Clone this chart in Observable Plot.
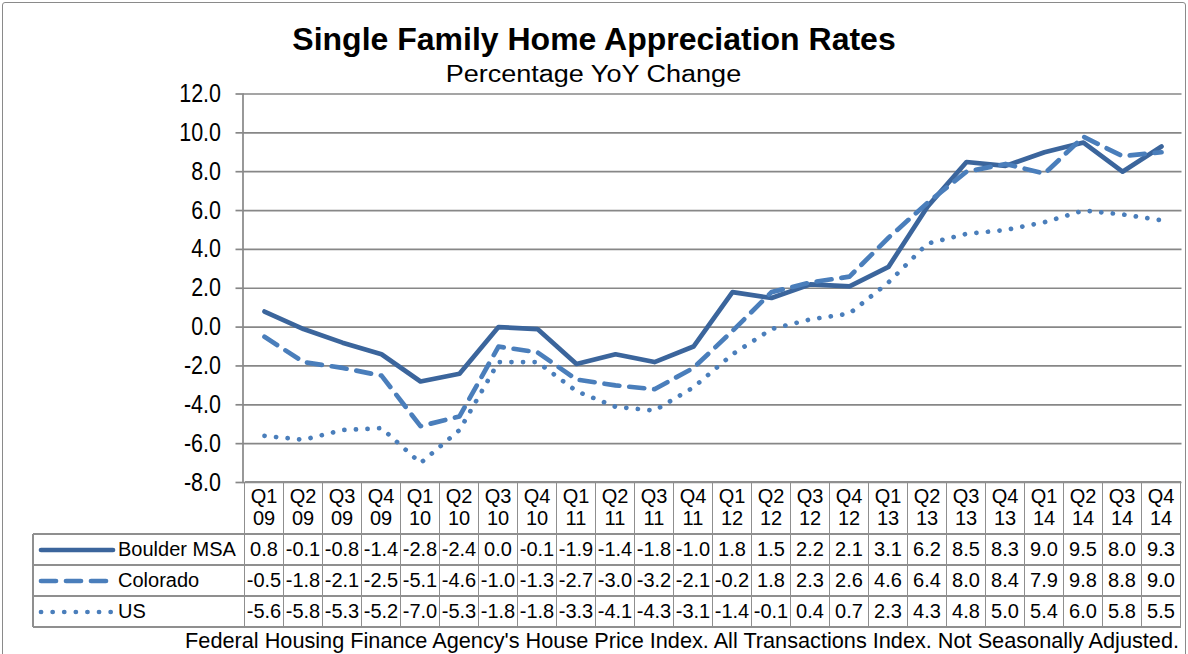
<!DOCTYPE html>
<html>
<head>
<meta charset="utf-8">
<script src="https://cdn.jsdelivr.net/npm/d3@7"></script>
<script src="https://cdn.jsdelivr.net/npm/@observablehq/plot@0.6"></script>
<style>
  html, body { margin: 0; padding: 0; background: #fff; }
  body { font-family: "Liberation Sans", Arial, sans-serif; color: #000; }
  #wrap { position: relative; width: 1188px; height: 654px; overflow: hidden; background: #fff; }
  #frame { position: absolute; left: 2px; top: 2px; width: 1184px; height: 680px; border: 1.5px solid #8a8a8a; border-radius: 3px; box-sizing: border-box; }
  #title { position: absolute; left: 0; width: 1188px; top: 21px; text-align: center; font-weight: bold; font-size: 32px; line-height: 37px; }
  #subtitle { position: absolute; left: 0; width: 1188px; top: 61px; text-align: center; font-size: 23.5px; line-height: 27px; transform: scaleX(1.15); transform-origin: 598px 0; }
  #chart { position: absolute; left: 0; top: 84px; }
  #table { position: absolute; left: 0; top: 0; }
  .cell { position: absolute; box-sizing: border-box; text-align: center; font-size: 20px; white-space: nowrap; }
  .hline, .vline { position: absolute; background: #8f8f8f; }
  #footer { position: absolute; right: 9px; top: 629.5px; font-size: 21.7px; line-height: 22px; white-space: nowrap; }
</style>
</head>
<body>
<div id="wrap">
  <div id="frame"></div>
  <div id="title">Single Family Home Appreciation Rates</div>
  <div id="subtitle">Percentage YoY Change</div>
  <div id="chart"></div>
  <div id="table"></div>
  <div id="footer">Federal Housing Finance Agency's House Price Index. All Transactions Index. Not Seasonally Adjusted.</div>
</div>
<script>
// ---- Data ----
const quarters = ["Q1 09","Q2 09","Q3 09","Q4 09","Q1 10","Q2 10","Q3 10","Q4 10",
                  "Q1 11","Q2 11","Q3 11","Q4 11","Q1 12","Q2 12","Q3 12","Q4 12",
                  "Q1 13","Q2 13","Q3 13","Q4 13","Q1 14","Q2 14","Q3 14","Q4 14"];
const boulder  = [0.8,-0.1,-0.8,-1.4,-2.8,-2.4,0.0,-0.1,-1.9,-1.4,-1.8,-1.0,1.8,1.5,2.2,2.1,3.1,6.2,8.5,8.3,9.0,9.5,8.0,9.3];
const colorado = [-0.5,-1.8,-2.1,-2.5,-5.1,-4.6,-1.0,-1.3,-2.7,-3.0,-3.2,-2.1,-0.2,1.8,2.3,2.6,4.6,6.4,8.0,8.4,7.9,9.8,8.8,9.0];
const us       = [-5.6,-5.8,-5.3,-5.2,-7.0,-5.3,-1.8,-1.8,-3.3,-4.1,-4.3,-3.1,-1.4,-0.1,0.4,0.7,2.3,4.3,4.8,5.0,5.4,6.0,5.8,5.5];
const seriesNames = ["Boulder MSA", "Colorado", "US"];
const yTicks = [-8, -6, -4, -2, 0, 2, 4, 6, 8, 10, 12];

// ---- Styles ----
const seriesStyle = [
  {stroke: "#3b659c", strokeWidth: 4.7, dash: null},
  {stroke: "#4a7ebb", strokeWidth: 4.7, dash: "15,10"},
  {stroke: "#4a7ebb", strokeWidth: 4.7, dash: "0.1,11.5"}
];
const seriesValues = [boulder, colorado, us];

const toRows = (vals) => quarters.map((q, i) => ({q, v: vals[i]}));

const gridColor = "#878787";
const chart = Plot.plot({
  width: 1188,
  height: 400,
  marginLeft: 242.5,
  marginRight: 6.5,
  marginTop: 9.5,
  marginBottom: 2,
  style: {fontFamily: "'Liberation Sans', Arial, sans-serif", color: "#000", background: "transparent", overflow: "visible"},
  x: {type: "point", domain: quarters, padding: 0.5, axis: null},
  y: {domain: [-8, 12], axis: null},
  marks: [
    Plot.gridY(yTicks, {stroke: gridColor, strokeOpacity: 1, strokeWidth: 1.7}),
    Plot.frame({anchor: "left", stroke: gridColor, strokeOpacity: 1, strokeWidth: 1.7}),
    Plot.axisY(yTicks, {tickFormat: d => d.toFixed(1), tickSize: 7, tickPadding: 15, fontSize: 25, stroke: gridColor, strokeWidth: 1.7, label: null}),
    ...seriesValues.map((vals, k) => Plot.line(toRows(vals), {
      x: "q", y: "v",
      stroke: seriesStyle[k].stroke,
      strokeWidth: seriesStyle[k].strokeWidth,
      strokeDasharray: seriesStyle[k].dash,
      strokeLinecap: "round",
      strokeLinejoin: "round"
    }))
  ]
});
document.getElementById("chart").appendChild(chart);

// narrow the y tick labels
chart.querySelectorAll('g[aria-label="y-axis tick label"] text').forEach(t => {
  const tr = t.getAttribute("transform") || "";
  t.setAttribute("transform", tr + " scale(0.86,1)");
});

// ---- Data table aligned with x scale ----
const xs = chart.scale("x");
const step = xs.apply(quarters[1]) - xs.apply(quarters[0]);
const chartTop = 84;
const plotBottom = chartTop + 400 - 2;
const tableLeft = 33;
const rowTops = [plotBottom, plotBottom + 52, plotBottom + 83, plotBottom + 114, plotBottom + 145];
const table = document.getElementById("table");
const colLeft = q => xs.apply(q) - step / 2;
const firstCol = colLeft(quarters[0]);
const lastRight = colLeft(quarters[quarters.length - 1]) + step;

function addDiv(cls, css, html) {
  const d = document.createElement("div");
  d.className = cls;
  Object.assign(d.style, css);
  if (html != null) d.innerHTML = html;
  table.appendChild(d);
  return d;
}
// horizontal lines
addDiv("hline", {left: firstCol + "px", top: (rowTops[0] - 0.75) + "px", width: (lastRight - firstCol) + "px", height: "1.5px"});
for (let r = 1; r < rowTops.length; r++) {
  addDiv("hline", {left: tableLeft + "px", top: (rowTops[r] - 0.75) + "px", width: (lastRight - tableLeft) + "px", height: "1.5px"});
}
// vertical lines
addDiv("vline", {left: (tableLeft - 0.75) + "px", top: rowTops[1] + "px", width: "1.5px", height: (rowTops[4] - rowTops[1]) + "px"});
quarters.forEach((q, i) => {
  addDiv("vline", {left: (colLeft(q) - 0.75) + "px", top: rowTops[0] + "px", width: "1.5px", height: (rowTops[4] - rowTops[0]) + "px"});
});
addDiv("vline", {left: (lastRight - 0.75) + "px", top: rowTops[0] + "px", width: "1.5px", height: (rowTops[4] - rowTops[0]) + "px"});

// header cells
quarters.forEach(q => {
  const [a, b] = q.split(" ");
  addDiv("cell", {left: colLeft(q) + "px", top: (rowTops[0] + 3) + "px", width: step + "px", lineHeight: "22px"}, a + "<br>" + b);
});
// data rows
seriesNames.forEach((name, k) => {
  const top = rowTops[k + 1];
  const h = rowTops[k + 2] - top;
  const st = seriesStyle[k];
  const sw = `<svg width="80" height="12" style="position:absolute;left:4px;top:${(h - 12) / 2}px;overflow:visible">
    <line x1="4" y1="6" x2="76" y2="6" stroke="${st.stroke}" stroke-width="${st.strokeWidth}" stroke-linecap="round" ${st.dash ? `stroke-dasharray="${st.dash}"` : ""}/></svg>`;
  addDiv("cell", {left: tableLeft + "px", top: top + "px", width: (firstCol - tableLeft) + "px", height: h + "px", lineHeight: h + "px", textAlign: "left"},
    sw + `<span style="position:absolute;left:85px">${name}</span>`);
  seriesValues[k].forEach((v, i) => {
    addDiv("cell", {left: colLeft(quarters[i]) + "px", top: top + "px", width: step + "px", height: h + "px", lineHeight: h + "px"}, v.toFixed(1));
  });
});
</script>
</body>
</html>
